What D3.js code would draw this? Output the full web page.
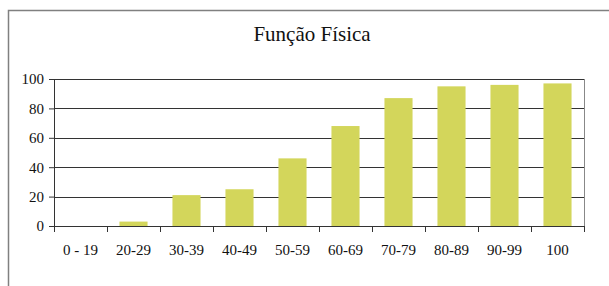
<!DOCTYPE html>
<html>
<head>
<meta charset="utf-8">
<script src="https://cdn.jsdelivr.net/npm/d3@7"></script>
<style>
  body { margin: 0; background: #fff; }
</style>
</head>
<body>
<svg id="chart"></svg>
<script>
const categories = ["0 - 19", "20-29", "30-39", "40-49", "50-59", "60-69", "70-79", "80-89", "90-99", "100"];
const values = [0, 3, 21, 25, 46, 68, 87, 95, 96, 97];
const yTicks = [0, 20, 40, 60, 80, 100];
const title = "Função Física";

const W = 609, H = 286;
const margin = { top: 79, right: 25, bottom: 60, left: 54 };
const width = W - margin.left - margin.right;
const height = H - margin.top - margin.bottom;
const serif = "Liberation Serif";

const root = d3.select("#chart").attr("width", W).attr("height", H);

// outer frame (only top and left visible in the scan)
root.append("path")
  .attr("d", `M8.5,${H} L8.5,10.5 L${W},10.5`)
  .attr("fill", "none")
  .attr("stroke", "#808080")
  .attr("stroke-width", 1.5);

root.append("text")
  .attr("x", 312)
  .attr("y", 41)
  .attr("text-anchor", "middle")
  .style("font-family", serif)
  .style("font-size", "21px")
  .style("fill", "#111")
  .text(title);

const svg = root.append("g").attr("transform", `translate(${margin.left},${margin.top})`);

const x = d3.scaleBand().domain(categories).range([0, width]).paddingInner(0.47).paddingOuter(0.235);
const y = d3.scaleLinear().domain([0, 100]).range([height, 0]);

// gridlines
svg.append("g")
  .selectAll("line")
  .data(yTicks.filter(d => d > 0))
  .join("line")
  .attr("x1", 0)
  .attr("x2", width)
  .attr("y1", d => Math.round(y(d)) + 0.5)
  .attr("y2", d => Math.round(y(d)) + 0.5)
  .attr("stroke", "#333")
  .attr("stroke-width", 1.2);

// right border of plot area
svg.append("line")
  .attr("x1", width + 0.5).attr("x2", width + 0.5)
  .attr("y1", 0).attr("y2", height)
  .attr("stroke", "#888");

// bars
svg.append("g")
  .selectAll("rect")
  .data(values)
  .join("rect")
  .attr("x", (d, i) => x(categories[i]))
  .attr("width", x.bandwidth())
  .attr("y", d => y(d))
  .attr("height", d => height - y(d))
  .attr("fill", "#d3d65b");

// y axis
const yAxis = svg.append("g")
  .call(d3.axisLeft(y).tickValues(yTicks).tickSize(5).tickPadding(5));
yAxis.select(".domain").attr("stroke", "#333");
yAxis.selectAll(".tick line").attr("stroke", "#333");
yAxis.selectAll("text")
  .style("font-family", serif)
  .style("font-size", "15px")
  .attr("fill", "#111");

// x axis: ticks between categories
const xAxis = svg.append("g").attr("transform", `translate(0,${height})`);
xAxis.append("line")
  .attr("x1", 0).attr("x2", width)
  .attr("y1", 0.5).attr("y2", 0.5)
  .attr("stroke", "#333");
const step = x.step();
xAxis.selectAll("line.tk")
  .data(d3.range(categories.length + 1))
  .join("line")
  .attr("class", "tk")
  .attr("x1", i => Math.round(x(categories[0]) - x.paddingOuter() * step + i * step) + 0.5)
  .attr("x2", i => Math.round(x(categories[0]) - x.paddingOuter() * step + i * step) + 0.5)
  .attr("y1", 0)
  .attr("y2", 6)
  .attr("stroke", "#333");
xAxis.selectAll("text")
  .data(categories)
  .join("text")
  .attr("x", d => x(d) + x.bandwidth() / 2)
  .attr("y", 29)
  .attr("text-anchor", "middle")
  .style("font-family", serif)
  .style("font-size", "15px")
  .attr("fill", "#111")
  .text(d => d);
</script>
</body>
</html>
